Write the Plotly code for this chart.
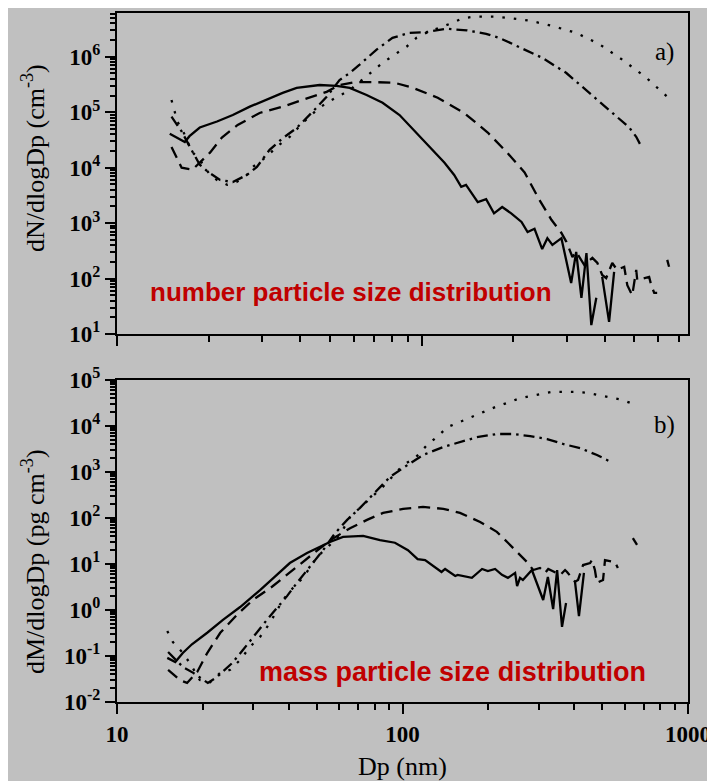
import math
import plotly.graph_objects as go

# ---------------- data ----------------
# panel a) number size distribution, dN/dlogDp (cm^-3)
n_solid_dp = [14.9, 16.7, 17.3, 18.7, 21.3, 24.0, 27.3, 35.0, 38.9, 46.3, 52.6, 58.1, 66.0, 74.5,
              84.7, 96.3, 108.7, 119, 128, 135, 140, 153, 163, 173, 184, 197, 213, 223, 235, 249,
              259, 269, 288, 310, 322, 335, 348, 361, 375, 383, 392, 413, 429]
n_solid = [4.1e4, 2.9e4, 3.7e4, 5.3e4, 6.8e4, 8.9e4, 1.26e5, 2.24e5, 2.75e5, 3.1e5, 3.0e5, 2.75e5,
           2.05e5, 1.48e5, 8.9e4, 4.2e4, 2.1e4, 1.23e4, 7.4e3, 4.5e3, 4.9e3, 2.4e3, 2.7e3, 1.5e3,
           1.95e3, 1.5e3, 1.05e3, 690, 790, 340, 535, 405, 535, 83, 302, 45, 288, 14.5, 45, None,
           107, 16.5, 132]

n_dash_dp = [15.1, 16.3, 17.7, 20.2, 22.1, 24.9, 29.4, 35.0, 40.7, 48.8, 53.8, 60.3, 69.0, 81.5,
             93.3, 113, 138, 165, 191, 218, 244, 267, 288, 299, 313, 322, 342, 364, 378, 392, 404,
             423, 439, 463, 474, 492, 507, 511, 559, 568, 581, 594, 620, 641, 650]
n_dash = [2.37e4, 1.0e4, 9.2e3, 1.87e4, 3.5e4, 5.9e4, 9.7e4, 1.26e5, 1.67e5, 2.33e5, 3.1e5, 3.5e5,
          3.5e5, 3.4e5, 2.78e5, 1.83e5, 9.7e4, 4.3e4, 1.87e4, 8.2e3, 2.6e3, 1.15e3, 665, 460, 245,
          302, 177, 236, 191, 116, 102, 191, 143, 163, 76, 50, 143, 94, 107, 76, 55, 55, None, 217,
          163]

n_dashdot_dp = [15.1, 16.3, 17.7, 18.7, 19.9, 21.8, 24.0, 26.7, 28.8, 31.7, 35.0, 38.9, 43.9, 48.8,
                53.8, 58.1, 62.6, 71.2, 80.3, 91.3, 104, 121, 141, 163, 180, 210, 249, 299, 356,
                423, 481, 507, 527]
n_dashdot = [8.3e4, 4.5e4, 1.94e4, 1.13e4, 8.4e3, 6.0e3, 5.5e3, 7.4e3, 1.03e4, 2.1e4, 3.4e4, 5.2e4,
             1.02e5, 1.9e5, 3.8e5, 5.1e5, 7.2e5, 1.35e6, 2.2e6, 2.7e6, 2.8e6, 3.2e6, 3.0e6, 2.6e6,
             2.2e6, 1.5e6, 9.6e5, 5.1e5, 2.24e5, 9.8e4, 5.3e4, 3.6e4, 2.4e4]

n_dot_dp = [15.1, 15.8, 16.5, 17.6, 18.7, 20.2, 21.3, 23.0, 24.7, 26.7, 27.9, 31.0, 33.5, 36.9,
            40.7, 45.3, 48.8, 53.1, 58.1, 68.5, 74.5, 81.5, 89.3, 96.3, 105, 125, 136, 149, 176,
            194, 226, 269, 322, 383, 456, 547, 641]
n_dot = [1.66e5, 6.7e4, 4.5e4, 1.95e4, 1.39e4, 7.4e3, 6.0e3, 4.9e3, 5.5e3, 7.4e3, 1.03e4, 1.58e4,
         2.4e4, 3.6e4, 6.4e4, 1.1e5, 1.48e5, 1.9e5, 2.5e5, 5.3e5, 7.8e5, 1.09e6, 1.52e6, 2.2e6,
         2.8e6, 4.0e6, 4.9e6, 5.3e6, 5.3e6, 5.0e6, 4.5e6, 3.6e6, 2.7e6, 1.7e6, 8.9e5, 4.2e5, 1.9e5]

# panel b) mass size distribution, dM/dlogDp (pg cm^-3)
m_solid_dp = [15.0, 16.0, 17.0, 18.3, 20.7, 23.5, 27.0, 31.7, 36.3, 40.3, 46.3, 51.4, 55.7, 61.9,
              72.8, 83.4, 94.1, 104.5, 113, 120, 137, 141, 153, 156, 175, 190, 199, 211, 223, 234,
              248, 252, 258, 264, 284, 311, 323, 337, 348, 362, 374, 388, 402, 415, 432]
m_solid = [0.091, 0.074, 0.116, 0.18, 0.32, 0.61, 1.16, 2.7, 5.8, 10.5, 17.3, 23.4, 30, 39, 41, 33,
           29, 20, 12.8, 12.2, 6.7, 7.8, 5.5, 5.8, 5.0, 7.8, 7.0, 7.8, 5.8, 5.0, 6.4, 3.3, 5.0, 4.5,
           7.4, 1.65, 5.2, 1.05, 7.4, 0.43, 1.42, None, 4.1, 0.74, 6.4]

m_dash_dp = [15.1, 16.6, 17.6, 19.1, 20.7, 23.0, 26.3, 29.9, 34.9, 40.4, 46.3, 51.4, 57.1, 65.5,
             75.1, 85.5, 100.5, 118, 139, 159, 187, 214, 234, 254, 273, 287, 303, 316, 324, 357,
             371, 377, 402, 412, 429, 454, 461, 472, 480, 504, 512, 555, 568, 600, 641, 663]
m_dash = [0.050, 0.030, 0.026, 0.045, 0.116, 0.32, 0.78, 1.65, 3.2, 6.7, 13.5, 22, 36, 60, 91, 129,
          158, 174, 158, 129, 82, 50, 29, 17.4, 11.0, 7.4, 8.2, 6.4, 7.8, 5.8, 7.4, 6.7, 4.1, 4.5,
          9.5, 10.5, 12.2, 7.4, 3.9, 4.5, 12.2, 11.0, 8.2, None, 36.7, 26]

m_dashdot_dp = [15.1, 17.0, 18.5, 20.8, 22.4, 25.3, 27.6, 30.9, 33.5, 36.3, 39.4, 42.7, 48.6, 52.7,
                58.1, 64.0, 71.0, 81.4, 90.4, 104, 118, 139, 159, 182, 214, 244, 280, 321, 365,
                419, 480, 528]
m_dashdot = [0.122, 0.058, 0.043, 0.026, 0.035, 0.070, 0.135, 0.33, 0.61, 1.1, 2.0, 3.9, 10.5, 20,
             47, 91, 166, 410, 780, 1410, 2340, 3500, 4470, 5700, 6700, 6700, 6040, 5200, 4070,
             3300, 2340, 1740]

m_dot_dp = [15.0, 15.7, 16.9, 18.0, 19.5, 21.2, 23.0, 24.9, 27.0, 29.2, 31.7, 34.3, 38.1, 41.3,
            44.8, 50.2, 55.7, 60.4, 65.5, 75.1, 85.5, 100.5, 110.6, 122, 132, 144, 159, 175, 191,
            211, 232, 254, 280, 308, 334, 365, 402, 443, 484, 533, 587, 641]
m_dot = [0.35, 0.20, 0.122, 0.070, 0.030, 0.027, 0.043, 0.050, 0.082, 0.157, 0.26, 0.52, 1.65, 3.0,
         5.0, 14.2, 26, 43, 105, 230, 480, 1420, 2000, 3870, 5770, 9500, 12300, 15800, 20000,
         25700, 31600, 38900, 44800, 49900, 55200, 55200, 55200, 52700, 47000, 42700, 37000, 30400]

top_ytick_exp = [1, 2, 3, 4, 5, 6]
bot_ytick_exp = [-2, -1, 0, 1, 2, 3, 4, 5]
x_tick_vals = [10, 100, 1000]

# ---------------- figure ----------------
OFF = 8                      # page body margin in the browser
W, H = 715 - OFF, 781 - OFF
BG = "#c0c0c0"
SERIF = "Liberation Serif"
SANS = "Liberation Sans"

DASH = {"solid": "solid", "dash": "12px,7px", "dashdot": "11px,5px,2.5px,5px", "dot": "2.5px,9px"}

fig = go.Figure()


def add(dp, vals, style, xa, ya):
    fig.add_trace(go.Scatter(x=dp, y=vals, mode="lines", connectgaps=False, showlegend=False,
                             hoverinfo="skip",
                             line=dict(color="black", width=2.3, dash=DASH[style]),
                             xaxis=xa, yaxis=ya))


for dp, v, s in [(n_solid_dp, n_solid, "solid"), (n_dash_dp, n_dash, "dash"),
                 (n_dashdot_dp, n_dashdot, "dashdot"), (n_dot_dp, n_dot, "dot")]:
    add(dp, v, s, "x", "y")
for dp, v, s in [(m_solid_dp, m_solid, "solid"), (m_dash_dp, m_dash, "dash"),
                 (m_dashdot_dp, m_dashdot, "dashdot"), (m_dot_dp, m_dot, "dot")]:
    add(dp, v, s, "x2", "y2")


def px_x(p):
    return (p - OFF) / W


def px_y(p):
    return 1 - (p - OFF) / H


def minor_vals(lo, hi):
    return [m * 10 ** k for k in range(lo, hi) for m in range(2, 10)]


common = dict(type="log", showgrid=False, zeroline=False, showline=True, linecolor="black",
              linewidth=2, mirror=True, ticks="outside", ticklen=10, tickwidth=2,
              tickcolor="black", automargin=False,
              tickfont=dict(family=SERIF, size=23, color="black", weight="bold"))

x_dom = [px_x(117), px_x(688)]
fig.update_layout(
    width=W, height=H, paper_bgcolor=BG, plot_bgcolor=BG,
    margin=dict(l=0, r=0, t=0, b=0, pad=0),
    xaxis=dict(common, domain=x_dom, anchor="y", range=[1, math.log10(750)],
               tickmode="array", tickvals=x_tick_vals, showticklabels=False,
               minor=dict(ticks="outside", ticklen=6, tickwidth=2, tickcolor="black",
                          tickmode="array", tickvals=minor_vals(1, 3), showgrid=False)),
    xaxis2=dict(common, domain=x_dom, anchor="y2", range=[1, 3],
                tickmode="array", tickvals=x_tick_vals,
                ticktext=["%d" % v for v in x_tick_vals],
                minor=dict(ticks="outside", ticklen=6, tickwidth=2, tickcolor="black",
                           tickmode="array", tickvals=minor_vals(1, 3), showgrid=False)),
    yaxis=dict(common, domain=[px_y(334), px_y(13)], anchor="x", range=[1, 6.79],
               tickmode="array", tickvals=[10.0 ** e for e in top_ytick_exp],
               ticktext=["10<sup>%d</sup>" % e for e in top_ytick_exp],
               minor=dict(ticks="outside", ticklen=5, tickwidth=1.5, tickcolor="black",
                          tickmode="array", tickvals=minor_vals(1, 7), showgrid=False)),
    yaxis2=dict(common, domain=[px_y(702), px_y(380)], anchor="x2", range=[-2, 5],
                tickmode="array", tickvals=[10.0 ** e for e in bot_ytick_exp],
                ticktext=["10<sup>%d</sup>" % e for e in bot_ytick_exp],
                minor=dict(ticks="outside", ticklen=5, tickwidth=1.5, tickcolor="black",
                           tickmode="array", tickvals=minor_vals(-2, 5), showgrid=False)),
)

ann = [
    dict(text="dN/dlogDp (cm<sup>-3</sup>)", x=px_x(33), y=px_y(158), textangle=-90,
         font=dict(family=SERIF, size=26, color="black")),
    dict(text="dM/dlogDp (pg cm<sup>-3</sup>)", x=px_x(33), y=px_y(562), textangle=-90,
         font=dict(family=SERIF, size=26, color="black")),
    dict(text="Dp (nm)", x=px_x(402), y=px_y(766),
         font=dict(family=SERIF, size=26, color="black")),
    dict(text="a)", x=px_x(664), y=px_y(52),
         font=dict(family=SERIF, size=25, color="black")),
    dict(text="b)", x=px_x(664), y=px_y(425),
         font=dict(family=SERIF, size=25, color="black")),
    dict(text="<b>number particle size distribution</b>", x=px_x(351), y=px_y(292),
         font=dict(family=SANS, size=26, color="#c00000")),
    dict(text="<b>mass particle size distribution</b>", x=px_x(452), y=px_y(672),
         font=dict(family=SANS, size=27, color="#c00000")),
]
for a in ann:
    fig.add_annotation(xref="paper", yref="paper", showarrow=False, xanchor="center",
                       yanchor="middle", **a)

fig.write_html("out.html")
